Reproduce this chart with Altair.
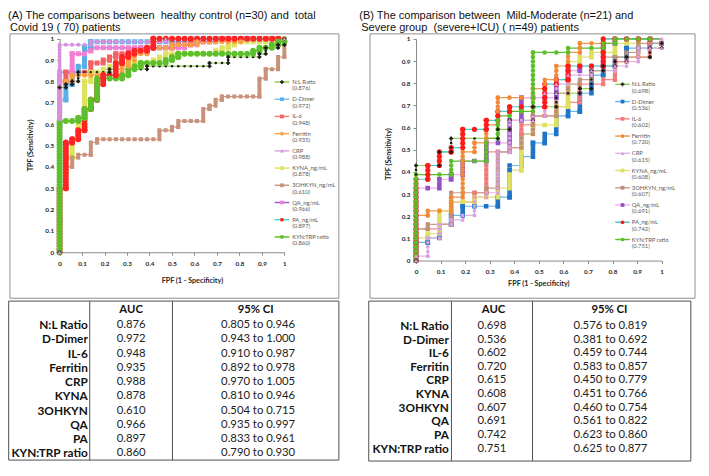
import altair as alt
import pandas as pd

# ------------------------------------------------------------------ data
SERIES = ["N:L Ratio", "D-Dimer", "IL-6", "Ferritin", "CRP", "KYNA_ng/mL",
          "3OHKYN_ng/mL", "QA_ng/mL", "PA_ng/mL", "KYN:TRP ratio"]
TABLE_NAMES = ["N:L Ratio", "D-Dimer", "IL-6", "Ferritin", "CRP", "KYNA",
               "3OHKYN", "QA", "PA", "KYN:TRP ratio"]

AUC_A = [0.876, 0.972, 0.948, 0.935, 0.988, 0.878, 0.610, 0.966, 0.897, 0.860]
CI_LO_A = [0.805, 0.943, 0.910, 0.892, 0.970, 0.810, 0.504, 0.935, 0.833, 0.790]
CI_HI_A = [0.946, 1.000, 0.987, 0.978, 1.005, 0.946, 0.715, 0.997, 0.961, 0.930]
AUC_B = [0.698, 0.536, 0.602, 0.720, 0.615, 0.608, 0.607, 0.691, 0.742, 0.751]
CI_LO_B = [0.576, 0.381, 0.459, 0.583, 0.450, 0.451, 0.460, 0.561, 0.623, 0.625]
CI_HI_B = [0.819, 0.692, 0.744, 0.857, 0.779, 0.766, 0.754, 0.822, 0.860, 0.877]

TICKS = [0, 0.1, 0.2, 0.3, 0.4, 0.5, 0.6, 0.7, 0.8, 0.9, 1]

NB = "\u00a0"
TITLE_A = ["(A) The comparisons between " + NB + "healthy control (n=30) and " + NB + "total",
           "Covid 19 ( 70) patients"]
TITLE_B = ["(B) The comparison between " + NB + "Mild-Moderate (n=21) and",
           "Severe group " + NB + "(severe+ICU) ( n=49) patients"]

# ROC vertices (FPF, TPF)
A_NL = [(0, 0), (0, 0.771), (0.028, 0.771), (0.028, 0.786), (0.056, 0.786), (0.056, 0.8),
        (0.083, 0.8), (0.083, 0.843), (0.222, 0.843), (0.222, 0.857), (0.389, 0.857),
        (0.389, 0.871), (0.667, 0.871), (0.667, 0.886), (0.75, 0.886), (0.75, 0.914),
        (0.889, 0.914), (0.889, 0.929), (0.917, 0.929), (0.917, 0.957), (0.972, 0.957),
        (0.972, 0.971), (1, 0.971), (1, 1)]
A_DD = [(0, 0), (0, 0.714), (0.028, 0.714), (0.028, 0.786), (0.056, 0.786), (0.056, 0.843),
        (0.083, 0.843), (0.083, 0.871), (0.111, 0.871), (0.111, 0.957), (0.139, 0.957),
        (0.139, 0.986), (0.611, 0.986), (0.611, 1), (1, 1)]
A_IL6 = [(0, 0), (0, 0.8), (0.028, 0.8), (0.028, 0.843), (0.139, 0.843), (0.139, 0.886),
         (0.194, 0.886), (0.194, 0.9), (0.222, 0.9), (0.222, 0.914), (0.25, 0.914),
         (0.25, 0.929), (0.306, 0.929), (0.306, 0.943), (0.361, 0.943), (0.361, 0.957),
         (0.5, 0.957), (0.5, 0.971), (0.583, 0.971), (0.583, 0.986), (0.694, 0.986),
         (0.694, 1), (1, 1)]
A_FER = [(0, 0), (0, 0.8), (0.056, 0.8), (0.056, 0.829), (0.278, 0.829), (0.278, 0.871),
         (0.306, 0.871), (0.306, 0.9), (0.333, 0.9), (0.333, 0.929), (0.389, 0.929),
         (0.389, 0.957), (0.5, 0.957), (0.5, 0.971), (0.611, 0.971), (0.611, 0.986),
         (0.806, 0.986), (0.806, 1), (1, 1)]
A_CRP = [(0, 0), (0, 0.971), (0.139, 0.971), (0.139, 0.986), (0.472, 0.986), (0.472, 1), (1, 1)]
A_KYNA = [(0, 0), (0, 0.371), (0.028, 0.371), (0.028, 0.443), (0.056, 0.443), (0.056, 0.529),
          (0.083, 0.529), (0.083, 0.6), (0.111, 0.6), (0.111, 0.8), (0.139, 0.8), (0.139, 0.843),
          (0.194, 0.843), (0.194, 0.857), (0.222, 0.857), (0.222, 0.871), (0.25, 0.871),
          (0.25, 0.886), (0.417, 0.886), (0.417, 0.9), (0.444, 0.9), (0.444, 0.914),
          (0.472, 0.914), (0.472, 0.929), (0.694, 0.929), (0.694, 0.943), (0.722, 0.943),
          (0.722, 0.957), (0.75, 0.957), (0.75, 0.971), (0.778, 0.971), (0.778, 0.986),
          (0.972, 0.986), (0.972, 1), (1, 1)]
A_3OH = [(0, 0), (0, 0.3), (0.028, 0.3), (0.028, 0.4), (0.056, 0.4), (0.056, 0.443),
         (0.083, 0.443), (0.083, 0.457), (0.139, 0.457), (0.139, 0.514), (0.167, 0.514),
         (0.167, 0.529), (0.444, 0.529), (0.444, 0.571), (0.5, 0.571), (0.5, 0.586),
         (0.528, 0.586), (0.528, 0.614), (0.639, 0.614), (0.639, 0.671), (0.667, 0.671),
         (0.667, 0.686), (0.694, 0.686), (0.694, 0.714), (0.722, 0.714), (0.722, 0.729),
         (0.889, 0.729), (0.889, 0.814), (0.917, 0.814), (0.917, 0.857), (0.972, 0.857),
         (0.972, 0.914), (1, 0.914), (1, 1)]
A_QA = [(0, 0), (0, 0.843), (0.056, 0.843), (0.056, 0.929), (0.111, 0.929), (0.111, 0.943),
        (0.139, 0.943), (0.139, 0.957), (0.556, 0.957), (0.556, 0.971), (0.611, 0.971),
        (0.611, 0.986), (0.694, 0.986), (0.694, 1), (1, 1)]
A_PA = [(0, 0), (0, 0.3), (0.028, 0.3), (0.028, 0.514), (0.056, 0.514), (0.056, 0.529),
        (0.083, 0.529), (0.083, 0.571), (0.111, 0.571), (0.111, 0.671), (0.139, 0.671),
        (0.139, 0.714), (0.167, 0.714), (0.167, 0.786), (0.194, 0.786), (0.194, 0.829),
        (0.25, 0.829), (0.25, 0.886), (0.278, 0.886), (0.278, 0.914), (0.306, 0.914),
        (0.306, 0.929), (0.333, 0.929), (0.333, 0.943), (0.389, 0.943), (0.389, 0.957),
        (0.417, 0.957), (0.417, 1), (1, 1)]
A_KT = [(0, 0), (0, 0.614), (0.083, 0.614), (0.083, 0.629), (0.111, 0.629), (0.111, 0.671),
        (0.139, 0.671), (0.139, 0.714), (0.167, 0.714), (0.167, 0.814), (0.278, 0.814),
        (0.278, 0.829), (0.306, 0.829), (0.306, 0.857), (0.333, 0.857), (0.333, 0.871),
        (0.361, 0.871), (0.361, 0.886), (0.472, 0.886), (0.472, 0.9), (0.5, 0.9),
        (0.5, 0.914), (0.528, 0.914), (0.528, 0.929), (0.861, 0.929), (0.861, 0.943),
        (0.889, 0.943), (0.889, 0.957), (0.944, 0.957), (0.944, 0.971), (0.972, 0.971),
        (0.972, 0.986), (1, 0.986), (1, 1)]
ROC_A = [A_NL, A_DD, A_IL6, A_FER, A_CRP, A_KYNA, A_3OH, A_QA, A_PA, A_KT]

# ROC vertices (FPF, TPF)
B_NL = [(0, 0), (0, 0.429), (0.095, 0.429), (0.095, 0.49), (0.143, 0.49), (0.143, 0.551),
        (0.333, 0.551), (0.333, 0.592), (0.381, 0.592), (0.381, 0.633), (0.476, 0.633),
        (0.476, 0.694), (0.571, 0.694), (0.571, 0.755), (0.667, 0.755), (0.667, 0.776),
        (0.714, 0.776), (0.714, 0.857), (0.762, 0.857), (0.762, 0.878), (0.81, 0.878),
        (0.81, 0.898), (0.857, 0.898), (0.857, 0.918), (0.952, 0.918), (0.952, 0.959),
        (1, 0.959), (1, 0.98)]
B_DD = [(0, 0), (0, 0.082), (0.048, 0.082), (0.048, 0.102), (0.095, 0.102), (0.095, 0.163),
        (0.143, 0.163), (0.143, 0.204), (0.19, 0.204), (0.19, 0.245), (0.333, 0.245),
        (0.333, 0.286), (0.381, 0.286), (0.381, 0.429), (0.429, 0.429), (0.429, 0.469),
        (0.476, 0.469), (0.476, 0.531), (0.524, 0.531), (0.524, 0.571), (0.571, 0.571),
        (0.571, 0.653), (0.619, 0.653), (0.619, 0.673), (0.667, 0.673), (0.667, 0.755),
        (0.714, 0.755), (0.714, 0.837), (0.762, 0.837), (0.762, 0.878), (0.81, 0.878),
        (0.81, 0.918), (0.857, 0.918), (0.857, 0.959), (0.952, 0.959), (0.952, 0.98),
        (1, 0.98), (1, 1)]
B_IL6 = [(0, 0), (0, 0.143), (0.095, 0.143), (0.095, 0.163), (0.143, 0.163), (0.143, 0.265),
         (0.238, 0.265), (0.238, 0.306), (0.286, 0.306), (0.286, 0.49), (0.381, 0.49),
         (0.381, 0.51), (0.429, 0.51), (0.429, 0.612), (0.476, 0.612), (0.476, 0.653),
         (0.571, 0.653), (0.571, 0.694), (0.619, 0.694), (0.619, 0.714), (0.667, 0.714),
         (0.667, 0.796), (0.762, 0.796), (0.762, 0.816), (0.81, 0.816), (0.81, 0.898),
         (0.857, 0.898), (0.857, 0.918), (0.952, 0.918), (0.952, 0.98), (1, 0.98), (1, 1)]
B_FER = [(0, 0), (0, 0.204), (0.048, 0.204), (0.048, 0.224), (0.143, 0.224), (0.143, 0.286),
         (0.19, 0.286), (0.19, 0.49), (0.238, 0.49), (0.238, 0.531), (0.286, 0.531),
         (0.286, 0.612), (0.333, 0.612), (0.333, 0.735), (0.476, 0.735), (0.476, 0.776),
         (0.524, 0.776), (0.524, 0.816), (0.571, 0.816), (0.571, 0.878), (0.619, 0.878),
         (0.619, 0.939), (0.667, 0.939), (0.667, 0.98), (0.762, 0.98), (0.762, 1), (1, 1)]
B_CRP = [(0, 0), (0, 0.02), (0.048, 0.02), (0.048, 0.102), (0.095, 0.102), (0.095, 0.163),
         (0.143, 0.163), (0.143, 0.184), (0.19, 0.184), (0.19, 0.204), (0.238, 0.204),
         (0.238, 0.286), (0.286, 0.286), (0.286, 0.306), (0.333, 0.306), (0.333, 0.49),
         (0.381, 0.49), (0.381, 0.633), (0.476, 0.633), (0.476, 0.653), (0.524, 0.653),
         (0.524, 0.755), (0.571, 0.755), (0.571, 0.796), (0.619, 0.796), (0.619, 0.837),
         (0.714, 0.837), (0.714, 0.857), (0.81, 0.857), (0.81, 0.878), (0.857, 0.878),
         (0.857, 0.898), (0.905, 0.898), (0.905, 0.959), (0.952, 0.959), (1, 0.959), (1, 1)]
B_KYNA = [(0, 0), (0, 0.102), (0.048, 0.102), (0.048, 0.122), (0.095, 0.122), (0.095, 0.224),
          (0.143, 0.224), (0.143, 0.265), (0.238, 0.265), (0.238, 0.286), (0.333, 0.286),
          (0.333, 0.327), (0.381, 0.327), (0.381, 0.408), (0.429, 0.408), (0.429, 0.571),
          (0.476, 0.571), (0.476, 0.612), (0.571, 0.612), (0.571, 0.694), (0.619, 0.694),
          (0.619, 0.898), (0.667, 0.898), (0.667, 0.918), (0.714, 0.918), (0.714, 0.939),
          (0.81, 0.939), (0.81, 0.98), (0.905, 0.98), (0.905, 1), (1, 1)]
B_3OH = [(0, 0), (0, 0.143), (0.048, 0.143), (0.048, 0.163), (0.143, 0.163), (0.143, 0.306),
         (0.286, 0.306), (0.286, 0.327), (0.333, 0.327), (0.333, 0.49), (0.381, 0.49),
         (0.381, 0.51), (0.429, 0.51), (0.429, 0.571), (0.476, 0.571), (0.476, 0.653),
         (0.571, 0.653), (0.571, 0.755), (0.619, 0.755), (0.619, 0.796), (0.667, 0.796),
         (0.667, 0.816), (0.714, 0.816), (0.714, 0.857), (0.762, 0.857), (0.762, 0.918),
         (0.857, 0.918), (0.857, 0.939), (0.905, 0.939), (0.905, 0.98), (1, 0.98), (1, 1)]
B_QA = [(0, 0), (0, 0.327), (0.095, 0.327), (0.095, 0.367), (0.143, 0.367), (0.143, 0.388),
        (0.19, 0.388), (0.19, 0.449), (0.286, 0.449), (0.286, 0.531), (0.381, 0.531),
        (0.381, 0.633), (0.429, 0.633), (0.429, 0.735), (0.571, 0.735), (0.571, 0.816),
        (0.619, 0.816), (0.619, 0.857), (0.667, 0.857), (0.667, 0.878), (0.762, 0.878),
        (0.762, 0.98), (0.81, 0.98), (0.81, 1), (1, 1)]
B_PA = [(0, 0), (0, 0.367), (0.048, 0.367), (0.048, 0.429), (0.095, 0.429), (0.095, 0.49),
        (0.143, 0.49), (0.143, 0.51), (0.19, 0.51), (0.19, 0.592), (0.286, 0.592),
        (0.286, 0.633), (0.333, 0.633), (0.333, 0.673), (0.381, 0.673), (0.381, 0.694),
        (0.524, 0.694), (0.524, 0.796), (0.571, 0.796), (0.571, 0.816), (0.619, 0.816),
        (0.619, 0.878), (0.762, 0.878), (0.762, 1), (1, 1)]
B_KT = [(0, 0), (0, 0.388), (0.143, 0.388), (0.143, 0.449), (0.286, 0.449), (0.286, 0.551),
        (0.333, 0.551), (0.333, 0.653), (0.381, 0.653), (0.381, 0.673), (0.476, 0.673),
        (0.476, 0.939), (0.619, 0.939), (0.619, 0.959), (0.762, 0.959), (0.762, 0.98),
        (0.81, 0.98), (0.81, 1), (1, 1)]
ROC_B = [B_NL, B_DD, B_IL6, B_FER, B_CRP, B_KYNA, B_3OH, B_QA, B_PA, B_KT]

# styles: line colour, marker colour, marker shape, marker size (px)
STYLE_A = {
    "N:L Ratio": ("#92d050", "#1b1b1b", "cross", 2.6),
    "D-Dimer": ("#7fc0ea", "#5aaee6", "square", 5),
    "IL-6": ("#f58080", "#f26262", "square", 5),
    "Ferritin": ("#f9a856", "#f7a046", "circle", 5),
    "CRP": ("#dca6e4", "#d590de", "triangle-up", 4),
    "KYNA_ng/mL": ("#dde36a", "#dde35c", "square", 5),
    "3OHKYN_ng/mL": ("#cc9a82", "#c8927a", "square", 4),
    "QA_ng/mL": ("#9b5cd0", "#f27fd2", "square", 5),
    "PA_ng/mL": ("#4fd4d4", "#ff2424", "circle", 6),
    "KYN:TRP ratio": ("#5dbf2b", "#5dbf2b", "circle", 6),
}
STYLE_B = {
    "N:L Ratio": ("#92d050", "#1b1b1b", "cross", 2.6),
    "D-Dimer": ("#6cb8e8", "#1f74c8", "square", 4.6),
    "IL-6": ("#f58c8c", "#f07a7a", "square", 4.2),
    "Ferritin": ("#f39a4a", "#f08a3a", "circle", 4.6),
    "CRP": ("#e2b4e8", "#d9a0e0", "triangle-up", 3.6),
    "KYNA_ng/mL": ("#e2e27a", "#e0e060", "square", 4.6),
    "3OHKYN_ng/mL": ("#c9a08a", "#c08e76", "square", 4.2),
    "QA_ng/mL": ("#f2aee8", "#9152c8", "square", 4.6),
    "PA_ng/mL": ("#40d0d0", "#ff1a1a", "circle", 5.2),
    "KYN:TRP ratio": ("#5cbf2a", "#5cbf2a", "circle", 4.6),
}

# ------------------------------------------------------------------ geometry
W, H = 690, 456
SX = (W - 2) / 707.0
SY = (H - 2) / 474.0


def X(r):
    return round((r - 1) * SX, 2)


def Y(r):
    return round(r * SY, 2)


ONE = pd.DataFrame({"k": [0]})
FONT = "Lato"


def build(rocs, styles):
    vrows, srows = [], []
    for s, pts in zip(SERIES, rocs):
        lc, mc, kind, bw = styles[s]
        for i, (fx, ty) in enumerate(pts):
            vrows.append(dict(series=s, i=i, fpf=fx, tpf=ty, lc=lc, mc=mc, kind=kind))
        for (x1, y1), (x2, y2) in zip(pts[:-1], pts[1:]):
            if x1 == x2 and y1 == y2:
                continue
            srows.append(dict(series=s, fpf=x1, tpf=y1, fpf2=x2, tpf2=y2,
                              orient="v" if x1 == x2 else "h", mc=mc,
                              cap="square" if kind == "square" else "round", bw=bw))
    return pd.DataFrame(vrows), pd.DataFrame(srows)


def roc_panel(rocs, styles, x0, x1, yb, yt, nx, ny, xt_x, xt_y, yt_x, yt_y):
    verts, segs = build(rocs, styles)
    xs = alt.Scale(domain=[0, 1], range=[X(x0), X(x1)], nice=False, zero=False)
    ys = alt.Scale(domain=[0, 1], range=[Y(yb), Y(yt)], nice=False, zero=False)
    common = dict(values=TICKS, format="~g", grid=False, labelFont=FONT, labelFontSize=6.3,
                  labelFontWeight="bold", labelColor="#262626", titleFont=FONT,
                  titleFontSize=7.2, titleFontWeight="bold", titleColor="#262626",
                  domainColor="#8c8c8c", tickColor="#8c8c8c", tickSize=3,
                  labelOverlap=False, labelFlush=False)
    xax = alt.Axis(orient="bottom", offset=Y(yb) - H, labelPadding=5,
                   title="FPF (1 - Specificity)", titleX=X(xt_x), titleY=Y(xt_y) - Y(yb),
                   titleBaseline="middle", titleAlign="center", **common)
    yax = alt.Axis(orient="left", offset=-X(x0), labelPadding=3,
                   title="TPF (Sensitivity)", titleX=X(yt_x) - X(x0), titleY=Y(yt_y),
                   titleAngle=270, titleBaseline="middle", titleAlign="center", **common)
    ex = alt.X("fpf:Q", scale=xs, axis=xax)
    ey = alt.Y("tpf:Q", scale=ys, axis=yax)
    step_x = (X(x1) - X(x0)) / nx
    step_y = (Y(yb) - Y(yt)) / ny
    layers = [alt.Chart(verts).mark_line(strokeWidth=1.2).encode(
        x=ex, y=ey, detail="series:N", color=alt.Color("lc:N", scale=None), order="i:Q")]
    for cap in ["square", "round"]:
        for orient, step in [("h", step_x), ("v", step_y)]:
            layers.append(
                alt.Chart(segs)
                .transform_filter((alt.datum.cap == cap) & (alt.datum.orient == orient))
                .mark_rule(strokeCap=cap, strokeDash=[0.01, round(step, 3)])
                .encode(x=ex, y=ey, x2="fpf2:Q", y2="tpf2:Q",
                        color=alt.Color("mc:N", scale=None),
                        strokeWidth=alt.StrokeWidth("bw:Q", scale=None)))
    layers.append(
        alt.Chart(verts)
        .transform_filter("datum.kind == 'triangle-up' || datum.kind == 'cross'")
        .mark_point(filled=True, opacity=1, size=16)
        .encode(x=ex, y=ey, shape=alt.Shape("kind:N", scale=None),
                color=alt.Color("mc:N", scale=None)))
    return alt.layer(*layers)


def legend(aucs, styles, lx0, lx1, lxm, ltx, ly0, ly1):
    df = pd.DataFrame(dict(series=SERIES, auc=["(%.3f)" % a for a in aucs],
                           lc=[styles[s][0] for s in SERIES],
                           mc=[styles[s][1] for s in SERIES],
                           kind=[styles[s][2] for s in SERIES]))
    ys = alt.Scale(type="point", domain=SERIES, range=[Y(ly0), Y(ly1)], padding=0)
    ey = alt.Y("series:N", scale=ys, axis=None)
    base = alt.Chart(df)
    rule = base.mark_rule(strokeWidth=1.5).encode(
        x=alt.value(X(lx0)), x2=alt.value(X(lx1)), y=ey, color=alt.Color("lc:N", scale=None))
    pt = base.mark_point(filled=True, opacity=1, size=14).encode(
        x=alt.value(X(lxm)), y=ey, shape=alt.Shape("kind:N", scale=None),
        color=alt.Color("mc:N", scale=None))
    t1 = base.mark_text(align="left", baseline="middle", font=FONT, fontSize=5.8,
                        color="#595959").encode(x=alt.value(X(ltx)), y=ey, text="series:N")
    t2 = base.mark_text(align="left", baseline="middle", font=FONT, fontSize=5.8, dy=6.3,
                        color="#595959").encode(x=alt.value(X(ltx)), y=ey, text="auc:N")
    return alt.layer(rule, pt, t1, t2)


def text_at(s, x, y, **kw):
    return alt.Chart(ONE).mark_text(**kw).encode(
        x=alt.value(x), y=alt.value(y), text=alt.value(s))


def box(x0, x1, y0, y1, color, width=1):
    return alt.Chart(ONE).mark_rect(fill="white", fillOpacity=0, stroke=color,
                                    strokeWidth=width).encode(
        x=alt.value(X(x0)), x2=alt.value(X(x1)), y=alt.value(Y(y0)), y2=alt.value(Y(y1)))


def vline(x, y0, y1, color):
    return alt.Chart(ONE).mark_rule(stroke=color, strokeWidth=1).encode(
        x=alt.value(X(x)), y=alt.value(Y(y0)), y2=alt.value(Y(y1)))


def table(aucs, lo, hi, tx0, tx1, ty0, ty1, sep1, sep2, xl, xa, xc, hy, ry0, ry1, hxa, hxc):
    df = pd.DataFrame(dict(name=TABLE_NAMES, auc=["%.3f" % a for a in aucs],
                           ci=["%.3f to %.3f" % (l, h) for l, h in zip(lo, hi)]))
    ys = alt.Scale(type="point", domain=TABLE_NAMES, range=[Y(ry0), Y(ry1)], padding=0)
    ey = alt.Y("name:N", scale=ys, axis=None)
    base = alt.Chart(df)
    fs = 11.3
    lab = base.mark_text(align="right", baseline="middle", font=FONT, fontSize=11.8,
                         fontWeight="bold", color="#111").encode(
        x=alt.value(X(xl)), y=ey, text="name:N")
    auc = base.mark_text(align="center", baseline="middle", font=FONT, fontSize=fs,
                         color="#222").encode(x=alt.value(X(xa)), y=ey, text="auc:N")
    ci = base.mark_text(align="center", baseline="middle", font=FONT, fontSize=fs,
                        color="#222").encode(x=alt.value(X(xc)), y=ey, text="ci:N")
    h1 = text_at("AUC", X(hxa), Y(hy), align="center", baseline="middle", font=FONT,
                 fontSize=fs, fontWeight="bold", color="#111")
    h2 = text_at("95% CI", X(hxc), Y(hy), align="center", baseline="middle", font=FONT,
                 fontSize=fs, fontWeight="bold", color="#111")
    frame = box(tx0, tx1, ty0, ty1, "#505050")
    s1 = vline(sep1, ty0, ty1, "#505050")
    s2 = vline(sep2, ty0, ty1, "#505050")
    return alt.layer(frame, s1, s2, h1, h2, lab, auc, ci)


# ------------------------------------------------------------------ chart
title_kw = dict(align="left", baseline="alphabetic", font="Liberation Sans",
                fontSize=11, color="#111")
titles = [
    text_at(TITLE_A[0], X(1), Y(11), **title_kw),
    text_at(TITLE_A[1], X(3), Y(24.2), **title_kw),
    text_at(TITLE_B[0], X(362), Y(11), **title_kw),
    text_at(TITLE_B[1], X(364), Y(24.2), **title_kw),
]
boxes = [box(3, 341, 27, 303, "#8f8f8f"), box(373, 707, 27, 303, "#8f8f8f")]

roc_a = roc_panel(ROC_A, STYLE_A, 54, 285, 255, 32, 36, 70, 190, 285, 24, 143)
roc_b = roc_panel(ROC_B, STYLE_B, 420.3, 672.7, 263.7, 32.3, 21, 49, 546, 288, 391.7, 152)
leg_a = legend(AUC_A, STYLE_A, 275, 290, 282.5, 293, 77.3, 239)
leg_b = legend(AUC_B, STYLE_B, 625, 640, 632.5, 642, 79.7, 241.7)
tab_a = table(AUC_A, CI_LO_A, CI_HI_A, 1.7, 341, 306, 472, 85, 170, 83, 127.5, 258,
              315, 331, 465, 127.5, 255.5)
tab_b = table(AUC_B, CI_LO_B, CI_HI_B, 371.7, 702.7, 306, 473, 456.7, 540, 454, 498.3, 620,
              315, 332, 460, 500, 619)

chart = alt.layer(*boxes, *titles, roc_a, leg_a, roc_b, leg_b, tab_a, tab_b).resolve_scale(
    x="independent", y="independent"
).properties(
    width=W, height=H, padding=0, autosize=alt.AutoSizeParams(type="none")
).configure_view(strokeWidth=0)

chart.save("out.html", embed_options={"renderer": "svg", "actions": False})
